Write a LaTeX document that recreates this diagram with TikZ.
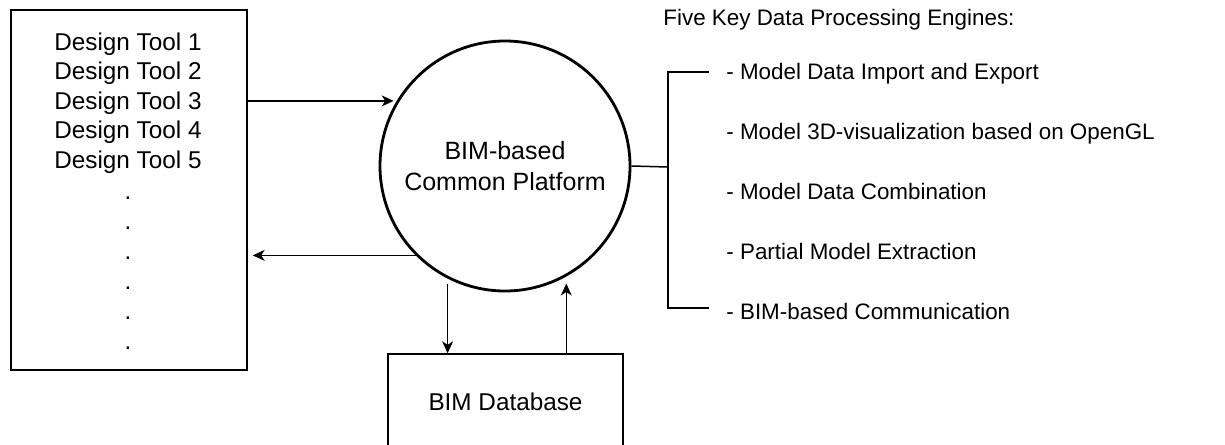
\documentclass[tikz,border=0pt]{standalone}
\usepackage{fontspec}
\setmainfont{Liberation Sans}
\usetikzlibrary{arrows.meta}

\tikzset{
    box/.style={draw, line width=0.75pt, rectangle, inner sep=0pt},
    flow/.style={-{Stealth[length=6pt,width=5.5pt,inset=1.8pt]}, line width=0.65pt},
    txt/.style={anchor=base, inner sep=0pt},
    engine/.style={anchor=base west, inner sep=0pt, font=\fontsize{11.2}{14}\selectfont},
}

\begin{document}
\begin{tikzpicture}[x=0.5pt, y=-0.5pt, font=\fontsize{12.15}{15.5}\selectfont]
    \useasboundingbox (0,0) rectangle (1225,444);
    \clip (0,0) rectangle (1225,444);

    % Design tools
    \node[box, minimum width=118pt, minimum height=180pt] (tools) at (129,190) {};
    \foreach \i in {1,...,5}
        \node[txt] (tool\i) at (128, 20.5+29.6*\i) {Design Tool \i};
    \foreach \j in {1,...,6}
        \node[txt] (dot\j) at (128, 169+30*\j) {.};

    % Common platform
    \node[draw, circle, line width=1.4pt, minimum size=125pt, inner sep=0pt, align=center,
          font=\fontsize{12.5}{15.5}\selectfont]
        (platform) at (505,166) {BIM-based\\Common Platform};

    % Database
    \node[box, minimum width=117.5pt, minimum height=48pt] (db) at (505.5,402) {BIM Database};

    % Arrows
    \draw[flow, shorten >=1.5pt] (tools.east |- platform.149) -- (platform.149);
    \draw[flow, shorten >=2.5pt] (platform.225) -- (tools.east |- platform.225);
    \draw[flow, shorten <=2.5pt] (platform.243) -- (platform.243 |- db.north);
    \draw[flow, shorten >=3.5pt] (platform.299 |- db.north) -- (platform.299);

    % Engines
    \node[engine] (title) at (663,26) {Five Key Data Processing Engines:};
    \foreach \t [count=\i] in {- Model Data Import and Export,
                               - Model 3D-visualization based on OpenGL,
                               - Model Data Combination,
                               - Partial Model Extraction,
                               - BIM-based Communication}
        \node[engine] (e\i) at (726, 20.25+59.75*\i) {\t};

    \coordinate (jn) at (668,167);
    \coordinate (topend) at (709,72);
    \coordinate (botend) at (709,308);
    \draw[line width=0.75pt] (platform.east) -- (jn);
    \draw[line width=0.75pt] (topend) -| (jn) |- (botend);
\end{tikzpicture}
\end{document}
